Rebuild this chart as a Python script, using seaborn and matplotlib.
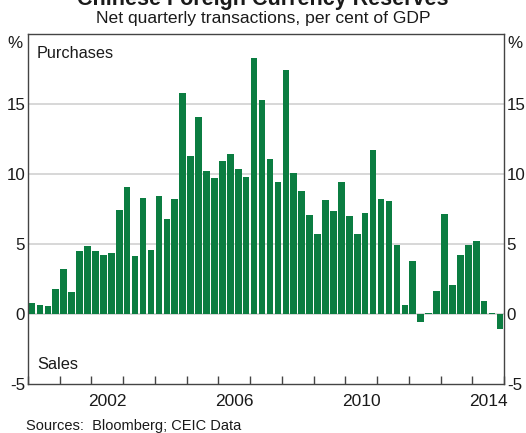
import matplotlib
matplotlib.use("Agg")
import matplotlib.pyplot as plt
import seaborn as sns
import numpy as np
import pandas as pd

years = list(range(2000, 2015))
quarters = ["Q1", "Q2", "Q3", "Q4"]
labels = [f"{y}{q}" for y in years for q in quarters]

values = [
    0.8, 0.65, 0.55, 1.8,      # 2000
    3.2, 1.55, 4.5, 4.85,      # 2001
    4.5, 4.25, 4.35, 7.4,      # 2002
    9.1, 4.15, 8.3, 4.6,       # 2003
    8.4, 6.8, 8.25, 15.8,      # 2004
    11.3, 14.05, 10.2, 9.7,    # 2005
    10.9, 11.4, 10.35, 9.8,    # 2006
    18.3, 15.3, 11.1, 9.4,     # 2007
    17.4, 10.05, 8.8, 7.05,    # 2008
    5.75, 8.15, 7.35, 9.4,     # 2009
    7.0, 5.7, 7.2, 11.7,       # 2010
    8.2, 8.05, 4.93, 0.65,     # 2011
    3.8, -0.6, 0.07, 1.65,     # 2012
    7.15, 2.1, 4.2, 4.95,      # 2013
    5.22, 0.95, 0.05, -1.05,   # 2014
]

ytick_vals = [-5, 0, 5, 10, 15]
xlabel_years = [2002, 2006, 2010, 2014]

title = "Chinese Foreign Currency Reserves"
subtitle = "Net quarterly transactions, per cent of GDP"
source = "Sources:  Bloomberg; CEIC Data"

sns.set_theme(style="white")
plt.rcParams["font.family"] = ["Liberation Sans", "DejaVu Sans"]

green = "#0b7d41"
txt = "#1a1a1a"

df = pd.DataFrame({"quarter": labels, "value": values})

W, H = 526, 433
fig = plt.figure(figsize=(W / 100, H / 100), dpi=100)
ax = fig.add_axes([28 / W, (H - 384) / H, (504 - 28) / W, (384 - 34) / H])

sns.barplot(data=df, x="quarter", y="value", color=green, saturation=1,
            width=0.84, linewidth=0, ax=ax, order=labels)

ax.set_xlim(-0.5, len(labels) - 0.5)
ax.set_ylim(-5, 20)

# grid
for v in [0, 5, 10, 15]:
    ax.axhline(v, color="#d4d4d4", lw=1.3, zorder=0)

ax.set_yticks(ytick_vals)
ax.set_yticklabels([str(v) for v in ytick_vals])
ax.tick_params(axis="y", which="both", length=0, labelsize=12.2, colors=txt,
               left=True, right=True, labelleft=True, labelright=True, pad=2)

# x ticks at year boundaries
bounds = [-0.5 + 4 * i for i in range(len(years) + 1)]
ax.set_xticks(bounds)
ax.set_xticklabels([""] * len(bounds))
ax.tick_params(axis="x", which="major", direction="in", length=6, width=1,
               color="#444444", bottom=True, top=False)
ax.set_xticks([(y - 2000) * 4 + 1.5 for y in xlabel_years], minor=True)
ax.set_xticklabels([str(y) for y in xlabel_years], minor=True)
ax.tick_params(axis="x", which="minor", length=0, labelsize=12.5, colors=txt, pad=7)
ax.set_xlabel("")
ax.set_ylabel("")

for s in ax.spines.values():
    s.set_color("#444444")
    s.set_linewidth(1.0)
    s.set_visible(True)

ax.text(-0.012, 0.995, "%", transform=ax.transAxes, ha="right", va="top",
        fontsize=12.2, color=txt)
ax.text(1.008, 0.995, "%", transform=ax.transAxes, ha="left", va="top",
        fontsize=12.2, color=txt)

ax.text(0.018, 0.945, "Purchases", transform=ax.transAxes, ha="left",
        va="center", fontsize=11.7, color=txt)
ax.text(0.02, 0.055, "Sales", transform=ax.transAxes, ha="left",
        va="center", fontsize=11.8, color=txt)

fig.text(0.5, 1 - 5 / H, title, ha="center", va="baseline", fontsize=15.5,
         fontweight="bold", color=txt)
fig.text(0.5, 1 - 18 / H, subtitle, ha="center", va="center", fontsize=12.6,
         color=txt)
fig.text(26 / W, 1 - 426 / H, source, ha="left", va="center", fontsize=10.5,
         color=txt)

fig.savefig("out.png", dpi=100, facecolor="white")
